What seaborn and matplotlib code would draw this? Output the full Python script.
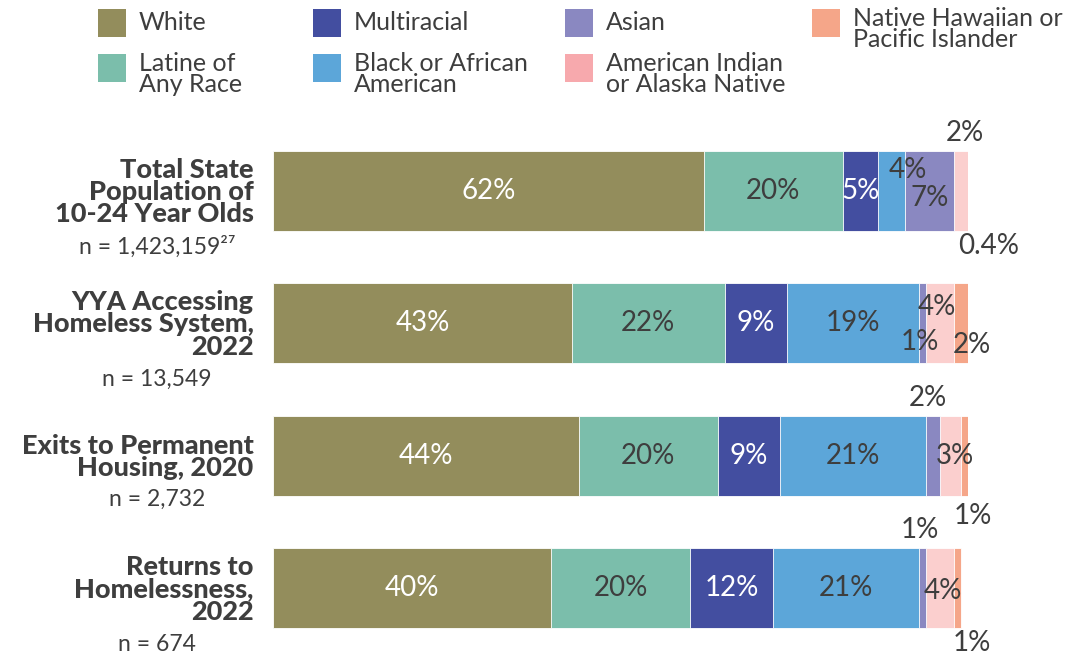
import numpy as np
import pandas as pd
import matplotlib
matplotlib.use("Agg")
import matplotlib.pyplot as plt
from matplotlib.patches import Rectangle
import seaborn as sns

# data
groups = ["Total State\nPopulation of\n10-24 Year Olds",
          "YYA Accessing\nHomeless System,\n2022",
          "Exits to Permanent\nHousing, 2020",
          "Returns to\nHomelessness,\n2022"]
n_labels = ["n = 1,423,159\u00b2\u2077", "n = 13,549", "n = 2,732", "n = 674"]
races = ["White", "Latine of Any Race", "Multiracial", "Black or African American",
         "Asian", "American Indian or Alaska Native", "Native Hawaiian or Pacific Islander"]
legend_labels = ["White", "Latine of\nAny Race", "Multiracial", "Black or African\nAmerican",
                 "Asian", "American Indian\nor Alaska Native", "Native Hawaiian or\nPacific Islander"]

white = [62, 43, 44, 40]
latine = [20, 22, 20, 20]
multiracial = [5, 9, 9, 12]
black = [4, 19, 21, 21]
asian = [7, 1, 2, 1]
aian = [2, 4, 3, 4]
nhpi = [0.4, 2, 1, 1]

bar_colors = ["#938D5C", "#7BBEAB", "#434EA0", "#5CA6D9", "#8A88C1", "#FBCFCE", "#F5A689"]
legend_colors = ["#938D5C", "#7BBEAB", "#434EA0", "#5CA6D9", "#8A88C1", "#F7A9AD", "#F5A689"]
dark = "#3E3E3E"

# small segments get their label nudged off the bar (pixels, +y is up)
offsets = {
    (0, 3): (16, 21), (0, 4): (0, -7), (0, 5): (4, 58), (0, 6): (19, -55),
    (1, 4): (-3, -19), (1, 5): (-3, 16), (1, 6): (11, -22),
    (2, 4): (-5, 58), (2, 5): (4, 0), (2, 6): (8, -60),
    (3, 4): (-3, 58), (3, 5): (3, -3), (3, 6): (14, -55),
}

values = np.array([white, latine, multiracial, black, asian, aian, nhpi], dtype=float)
cum = values.cumsum(axis=0)

rows = []
for j, race in enumerate(races):
    for i, g in enumerate(groups):
        rows.append({"group": g, "race": race, "value": values[j, i], "cum": cum[j, i]})
df = pd.DataFrame(rows)

sns.set_style("white")
plt.rcParams["font.family"] = ["Lato", "DejaVu Sans"]

W, H = 1079, 655
fig = plt.figure(figsize=(W / 100, H / 100), dpi=100)
ax = fig.add_axes([273 / W, 0.7 / H, 695 / W, 529.6 / H])

# stacked bars: draw the running totals, widest first
for j in range(len(races) - 1, -1, -1):
    sub = df[df["race"] == races[j]]
    sns.barplot(data=sub, x="cum", y="group", order=groups, orient="h",
                color=bar_colors[j], saturation=1, width=0.605, errorbar=None,
                edgecolor="white", linewidth=0.6, ax=ax)

ax.set_xlim(0, 100)
ax.set_xticks([])
ax.set_xlabel("")
ax.set_ylabel("")
sns.despine(ax=ax, left=True, bottom=True)
ax.tick_params(axis="y", length=0, pad=14)
ax.set_yticks(range(len(groups)))
ax.set_yticklabels(groups, fontsize=19.5, fontweight=900, color=dark, linespacing=0.92)

# percentage labels
for i in range(len(groups)):
    for j in range(len(races)):
        v = values[j, i]
        center = cum[j, i] - v / 2
        off = offsets.get((i, j), (0, 0))
        col = "white" if j in (0, 2) and off == (0, 0) else dark
        ax.annotate(f"{v:g}%", xy=(center, i), xytext=off, textcoords="offset pixels",
                    ha="center", va="center", fontsize=20, color=col,
                    annotation_clip=False)

# sample sizes under each group title
for i, lab in enumerate(n_labels):
    nlines = groups[i].count("\n") + 1
    ax.annotate(lab, xy=(0, i), xycoords=("axes fraction", "data"),
                xytext=(-116, -(12 * nlines + 20)), textcoords="offset pixels",
                ha="center", va="center", fontsize=16.5, color=dark,
                annotation_clip=False)

# legend laid out in four columns like the original
col_x = [98, 313, 565, 812]
row_y = [9, 54]
slots = [(0, 0), (0, 1), (1, 0), (1, 1), (2, 0), (2, 1), (3, 0)]
for (c, r), lab, colr in zip(slots, legend_labels, legend_colors):
    x0, y0 = col_x[c], row_y[r]
    fig.patches.append(Rectangle((x0 / W, 1 - (y0 + 28) / H), 28 / W, 28 / H,
                                 transform=fig.transFigure, facecolor=colr,
                                 edgecolor="none"))
    nl = lab.count("\n")
    fig.text((x0 + 41) / W, 1 - (y0 + 14 + 6 * nl) / H, lab, ha="left", va="center",
             fontsize=18, color=dark, linespacing=0.88)

fig.savefig("out.png", dpi=100)
